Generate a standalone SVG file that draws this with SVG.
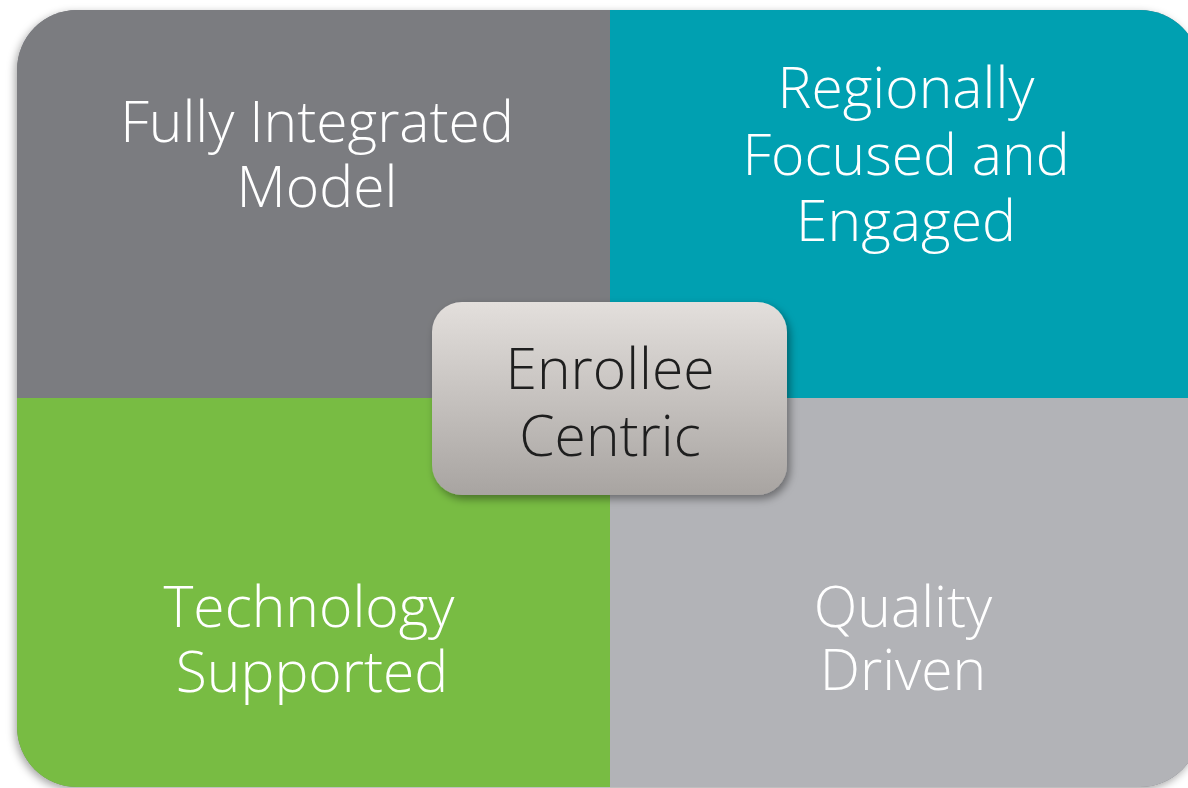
<svg xmlns="http://www.w3.org/2000/svg" width="1188" height="788" viewBox="0 0 1188 788">
<style>
.q{font-family:"Open Sans","Noto Sans","Liberation Sans",sans-serif;font-weight:300;font-size:57px;fill:#ffffff;text-anchor:middle}
.c{font-family:"Open Sans","Noto Sans","Liberation Sans",sans-serif;font-weight:300;font-size:57px;fill:#1e1e1e;text-anchor:middle}
</style>
<defs>
<clipPath id="clip"><rect x="17" y="10" width="1183" height="777" rx="60" ry="60"/></clipPath>
<filter id="sh" x="-5%" y="-5%" width="110%" height="110%"><feDropShadow dx="-2" dy="3" stdDeviation="4" flood-color="#000" flood-opacity="0.35"/></filter>
<filter id="sh2" x="-10%" y="-10%" width="125%" height="130%"><feDropShadow dx="3" dy="4" stdDeviation="4" flood-color="#000" flood-opacity="0.4"/></filter>
<linearGradient id="g" x1="0" y1="0" x2="0" y2="1"><stop offset="0" stop-color="#e3dfdc"/><stop offset="1" stop-color="#a8a4a1"/></linearGradient>
</defs>
<rect width="1188" height="788" fill="#ffffff"/>
<rect x="17" y="10" width="1183" height="777" rx="60" ry="60" fill="#7b7c80" filter="url(#sh)"/>
<g clip-path="url(#clip)">
<g id="q1"><rect x="17" y="10" width="593" height="388" fill="#7b7c80"/></g>
<g id="q2"><rect x="610" y="10" width="590" height="388" fill="#00a0b1"/></g>
<g id="q3"><rect x="17" y="398" width="593" height="389" fill="#78bc43"/></g>
<g id="q4"><rect x="610" y="398" width="590" height="389" fill="#b2b3b7"/></g>
</g>
<g id="t1"><text class="q" x="317" y="142">Fully Integrated</text><text class="q" x="317" y="207">Model</text></g>
<g id="t2"><text class="q" x="906" y="108">Regionally</text><text class="q" x="906" y="175">Focused and</text><text class="q" x="906" y="241">Engaged</text></g>
<g id="t3"><text class="q" x="309" y="627">Technology</text><text class="q" x="312" y="692">Supported</text></g>
<g id="t4"><text class="q" x="903" y="627">Quality</text><text class="q" x="903" y="690">Driven</text></g>
<g id="center">
<rect x="432" y="302" width="355" height="193" rx="30" ry="30" fill="url(#g)" filter="url(#sh2)"/>
<text class="c" x="610" y="389">Enrollee</text><text class="c" x="610" y="456">Centric</text>
</g>
<g id="connectors"/>
</svg>
